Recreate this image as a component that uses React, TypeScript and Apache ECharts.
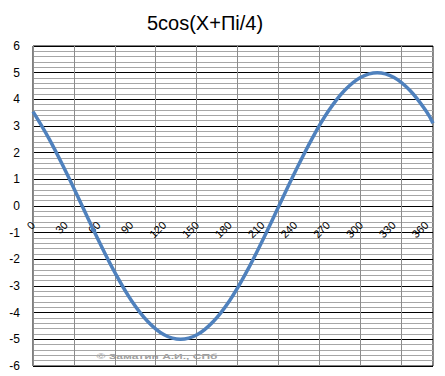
import React, { useEffect, useRef } from "react";
import * as echarts from "echarts";

const titleText = "5cos(X+Пi/4)";
const watermarkText = "© Заматин А.И., СПб";
const xValues = [0, 15, 30, 45, 60, 75, 90, 105, 120, 135, 150, 165, 180, 195, 210, 225, 240, 255, 270, 285, 300, 315, 330, 345, 360, 366];
const yValues = [3.54, 2.5, 1.29, 0, -1.29, -2.5, -3.54, -4.33, -4.83, -5, -4.83, -4.33, -3.54, -2.5, -1.29, 0, 1.29, 2.5, 3.54, 4.33, 4.83, 5, 4.83, 4.33, 3.54, 3.1];
const xLabelStep = 30;
const yMin = -6;
const yMax = 6;

export default function App() {
  const ref = useRef<HTMLDivElement>(null);
  useEffect(() => {
    if (!ref.current) return;
    const chart = echarts.init(ref.current, null, { renderer: "svg" });
    const font = "'Liberation Sans', Arial, sans-serif";
    const gridHeight = 320;
    const zeroOffset = -(gridHeight * (0 - yMin)) / (yMax - yMin);
    chart.setOption({
      animation: false,
      backgroundColor: "#fff",
      title: {
        text: titleText,
        left: 200,
        top: 8,
        textAlign: "center",
        textStyle: { fontFamily: font, fontSize: 20, fontWeight: "normal", color: "#000" },
      },
      grid: {
        left: 33,
        top: 46,
        width: 400,
        height: gridHeight,
        show: true,
        borderColor: "#000",
        borderWidth: 1,
        backgroundColor: "transparent",
        containLabel: false,
        outerBoundsMode: "none",
      },
      xAxis: [
        {
          type: "value",
          position: "bottom",
          offset: zeroOffset,
          min: 0,
          max: 366,
          interval: xLabelStep,
          axisLine: { show: false, onZero: false },
          axisTick: { show: false },
          splitLine: { show: false },
          axisLabel: {
            rotate: 45,
            margin: 17,
            fontFamily: font,
            fontSize: 11,
            color: "#000",
            showMaxLabel: false,
            hideOverlap: false,
            formatter: (v: number) => (v % xLabelStep === 0 ? String(v) : ""),
          },
        },
        {
          type: "value",
          position: "top",
          min: 0,
          max: 9.78,
          interval: 1,
          axisLine: { show: false, onZero: false },
          axisTick: { show: false },
          axisLabel: { show: false },
          splitLine: { show: true, lineStyle: { color: "#8c8c8c", width: 1 } },
        },
      ],
      yAxis: {
        type: "value",
        min: yMin,
        max: yMax,
        interval: 1,
        axisLine: { show: false },
        axisTick: { show: false },
        axisLabel: { margin: 13, fontFamily: font, fontSize: 12, color: "#000" },
        splitLine: { show: true, lineStyle: { color: "#000", width: 1 } },
        minorTick: { show: false, splitNumber: 5 },
        minorSplitLine: { show: true, lineStyle: { color: "#a6a6a6", width: 1 } },
      },
      series: [
        {
          type: "line",
          xAxisIndex: 0,
          data: xValues.map((x, i) => [x, yValues[i]]),
          smooth: 0.4,
          symbol: "none",
          lineStyle: { color: "#4F81BD", width: 3.5 },
          z: 5,
        },
      ],
      graphic: [
        {
          type: "group",
          z: 10,
          children: [
            { type: "rect", shape: { x: 90, y: 351, width: 153, height: 9 }, style: { fill: "#fff" } },
            {
              type: "text",
              x: 157,
              y: 356,
              scaleX: 1.5,
              style: {
                text: watermarkText,
                fontFamily: font,
                fontSize: 8,
                fontWeight: "bold",
                fill: "#a0a0a0",
                textAlign: "center",
                textVerticalAlign: "middle",
              },
            },
          ],
        },
      ],
    });
    return () => chart.dispose();
  }, []);
  return <div ref={ref} style={{ position: "fixed", left: 0, top: 0, width: 445, height: 376 }} />;
}
